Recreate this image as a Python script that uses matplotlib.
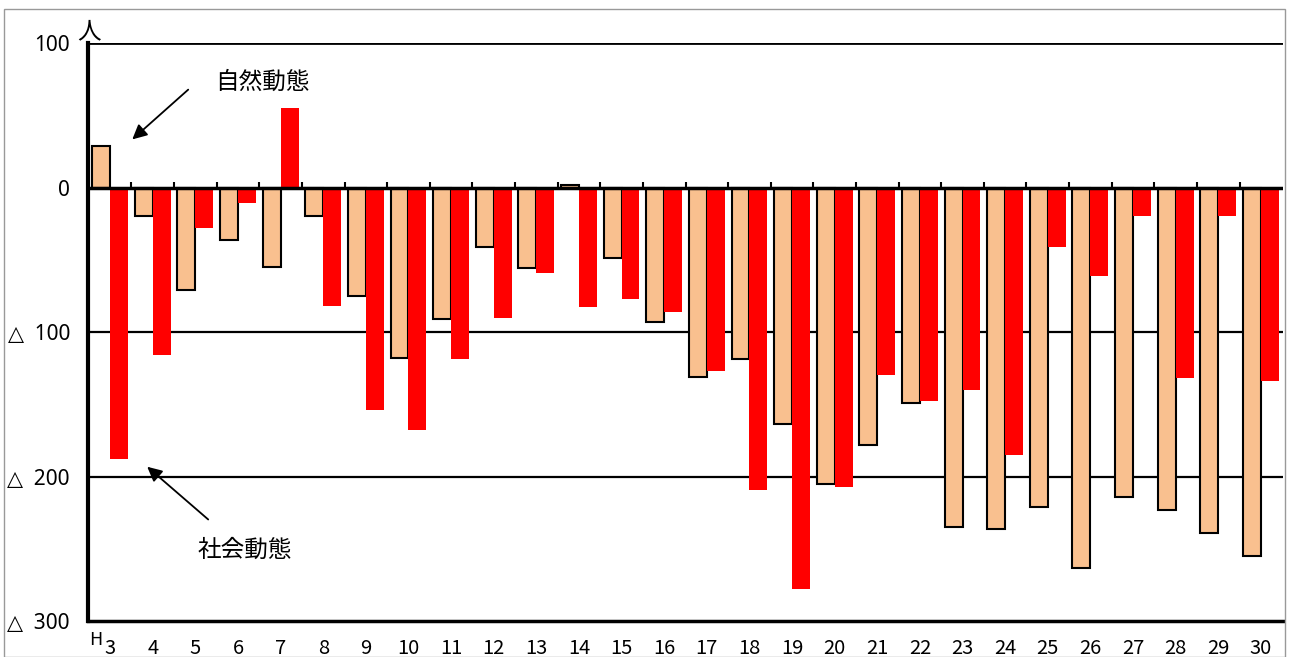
import numpy as np
import matplotlib.pyplot as plt
import matplotlib.patches as patches

plt.rcParams['font.family'] = ['Noto Sans CJK JP', 'DejaVu Sans']

# 年度 (平成)
nendo = ['3', '4', '5', '6', '7', '8', '9', '10', '11', '12', '13', '14', '15', '16',
         '17', '18', '19', '20', '21', '22', '23', '24', '25', '26', '27', '28', '29', '30']

# 自然動態 (人)
shizen = [29, -20, -71, -36, -55, -20, -75, -118, -91, -41, -56, 2, -49, -93,
          -131, -119, -164, -205, -178, -149, -235, -236, -221, -263, -214, -223, -239, -255]

# 社会動態 (人)
shakai = [-188, -116, -28, -11, 55, -82, -154, -168, -119, -90, -59, -83, -77, -86,
          -127, -209, -278, -207, -130, -148, -140, -185, -41, -61, -20, -132, -20, -134]

ytick_vals = [100, 0, -100, -200, -300]
ytick_labels = ['100', '0', '△  100', '△  200', '△  300']

fig = plt.figure(figsize=(12.91, 6.57), dpi=100)
ax = fig.add_axes([88 / 1291, 1 - 621 / 657, (1283 - 88) / 1291, (621 - 43) / 657])

x = np.arange(len(nendo))
w = 0.42
ax.bar(x - w / 2, shizen, width=w, color='#F9C08F', edgecolor='black', linewidth=1.5, zorder=3)
ax.bar(x + w / 2, shakai, width=w, color='#FF0000', edgecolor='none', zorder=3)

ax.set_xlim(-0.52, len(nendo) - 0.48)
ax.set_ylim(-300, 100)

# 横線
for v in [-100, -200]:
    ax.axhline(v, color='black', linewidth=1.6, zorder=1)
ax.axhline(100, color='black', linewidth=2, zorder=4)
ax.axhline(0, color='black', linewidth=2.5, zorder=4)
# 0の線の目盛り
ax.vlines(x[:-1] + 0.5, 0, 4, color='black', linewidth=1.5, zorder=4)

for s in ['top', 'right']:
    ax.spines[s].set_visible(False)
ax.spines['left'].set_linewidth(3)
ax.spines['bottom'].set_linewidth(2.5)

ax.set_yticks(ytick_vals)
ax.set_yticklabels(ytick_labels, fontsize=15, family=['Noto Sans', 'DejaVu Sans'])
ax.tick_params(axis='y', length=0, pad=13)
ax.set_xticks(x)
ax.set_xticklabels(nendo, fontsize=14.5)
ax.tick_params(axis='x', length=0, pad=12)

ax.text(-0.35, -307, 'H', fontsize=13, ha='center', va='top', clip_on=False)
ax.text(0.001, 1.0, '人', transform=ax.transAxes, fontsize=17, ha='center', va='bottom')

ax.annotate('', xy=(0.47, 32), xytext=(1.88, 69),
            arrowprops=dict(arrowstyle='-|>', color='black', lw=1.3, mutation_scale=22))
ax.text(3.57, 73, '自然動態', fontsize=17, ha='center', va='center')
ax.annotate('', xy=(0.82, -192), xytext=(2.35, -231),
            arrowprops=dict(arrowstyle='-|>', color='black', lw=1.3, mutation_scale=22))
ax.text(3.17, -251, '社会動態', fontsize=17, ha='center', va='center')

# 外枠
fig.patches.append(patches.Rectangle((4 / 1291, 0), 1281 / 1291, 1 - 9 / 657,
                                     transform=fig.transFigure, fill=False,
                                     edgecolor='#999999', linewidth=1))

fig.savefig('out.png', dpi=100)
